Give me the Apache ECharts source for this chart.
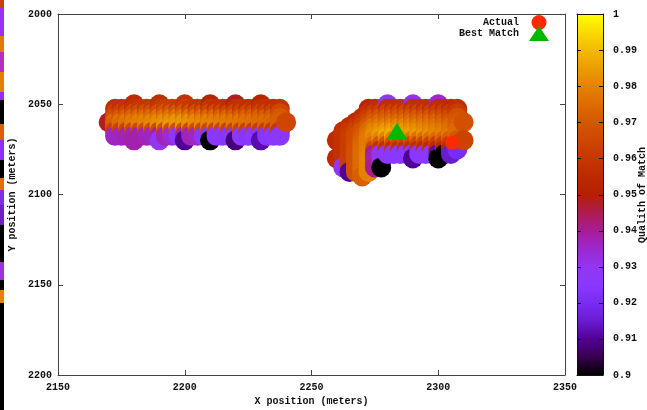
<!DOCTYPE html>
<html><head><meta charset="utf-8">
<style>html,body{margin:0;padding:0;background:#fff}#c{width:647px;height:410px}</style>
<script src="https://cdn.jsdelivr.net/npm/echarts@6/dist/echarts.min.js"></script>
</head><body><div id="c"></div>
<script>
const _ = null;
// Left cluster: x columns and one array of match quality per y row
const xA = [2170,2172.5,2175,2177.5,2180,2182.5,2185,2187.5,2190,2192.5,2195,2197.5,2200,2202.5,2205,2207.5,2210,2212.5,2215,2217.5,2220,2222.5,2225,2227.5,2230,2232.5,2235,2237.5,2240];
const rowsA = [
 [2050,   [_,_,_,_,.955,_,_,_,.957,_,_,_,.958,_,_,_,.952,_,_,_,.948,_,_,_,.952,_,_,_,_]],
 [2052.5, [_,.956,.957,.958,.958,.96,.96,.961,.96,.962,.962,.961,.962,.96,.958,.96,.959,.957,.958,.956,.957,.958,.957,.958,.957,.958,.957,.958,_]],
 [2055,   [_,.962,.964,.965,.966,.967,.968,.968,.968,.969,.97,.97,.97,.968,.967,.967,.966,.966,.965,.965,.965,.964,.965,.965,.964,.964,.964,.965,_]],
 [2057.5, [_,.968,.97,.972,.973,.974,.975,.975,.976,.976,.977,.977,.977,.976,.975,.975,.974,.974,.973,.973,.972,.972,.972,.972,.972,.971,.971,.97,_]],
 [2060,   [.948,.974,.976,.977,.978,.979,.98,.98,.981,.982,.982,.983,.983,.982,.981,.98,.98,.979,.978,.978,.977,.977,.976,.976,.975,.975,.974,.972,.965]],
 [2062.5, [_,.972,.974,.976,.978,.979,.98,.981,.982,.983,.984,.984,.984,.983,.982,.981,.98,.98,.979,.978,.978,.977,.976,.976,.975,.974,.973,.972,_]],
 [2065,   [_,.962,.963,.964,.965,.965,.966,.966,.966,.967,.967,.967,.967,.966,.966,.965,.965,.964,.964,.963,.963,.963,.962,.962,.962,.961,.961,.96,_]],
 [2067.5, [_,.936,.936,.937,.936,.938,.937,.936,.938,.937,.934,.927,.938,.937,.936,.925,.924,.925,.925,.924,.925,.925,.924,.925,.925,.924,.925,.925,_]],
 [2070,   [_,_,_,_,.938,_,_,_,.93,_,_,_,.91,_,_,_,.9,_,_,_,.908,_,_,_,.912,_,_,_,_]]
];
// Right cluster
const xB = [2260,2262.5,2265,2267.5,2270,2272.5,2275,2277.5,2280,2282.5,2285,2287.5,2290,2292.5,2295,2297.5,2300,2302.5,2305,2307.5,2310];
const rowsB = [
 [2050,   [_,_,_,_,_,_,_,_,.93,_,_,_,.932,_,_,_,.935,_,_,_,_]],
 [2052.5, [_,_,_,_,_,.952,.955,.956,.956,.957,.957,.957,.957,.956,.956,.956,.956,.955,.955,.956,_]],
 [2055,   [_,_,_,_,_,.958,.962,.963,.964,.964,.965,.965,.964,.964,.963,.963,.962,.962,.961,.962,_]],
 [2057.5, [_,_,_,_,.955,.962,.968,.969,.97,.97,.97,.97,.97,.97,.969,.969,.968,.967,.966,.968,_]],
 [2060,   [_,_,_,.955,.96,.966,.972,.974,.974,.975,.975,.975,.975,.974,.974,.974,.973,.972,.97,.97,.968]],
 [2062.5, [_,_,.956,.96,.964,.97,.976,.978,.979,.98,.98,.98,.979,.979,.978,.977,.976,.975,.974,.972,_]],
 [2065,   [_,.957,.96,.964,.968,.974,.98,.982,.984,.985,.985,.984,.983,.982,.981,.98,.979,.978,.976,.974,_]],
 [2067.5, [_,.958,.961,.966,.97,.976,.982,.985,.987,.988,.987,.986,.985,.984,.983,.982,.981,.98,.978,.975,_]],
 [2070,   [.955,.958,.962,.966,.972,.978,.98,.98,.98,.979,.978,.977,.977,.976,.975,.975,.974,.973,.972,.97,.964]],
 [2072.5, [_,.958,.962,.967,.973,.978,.975,.97,.968,.967,.966,.966,.965,.965,.964,.964,.963,.963,.962,.962,_]],
 [2075,   [_,.958,.962,.967,.974,.978,.965,.958,.957,.957,.956,.956,.956,.956,.955,.955,.955,.955,.955,.92,_]],
 [2077.5, [_,.958,.962,.968,.975,.979,.94,.928,.926,.925,.925,.926,.925,.925,.925,.926,.912,.9,.915,_,_]],
 [2080,   [.955,.958,.962,.968,.975,.98,.938,.93,_,_,_,_,.91,_,_,_,.9,_,_,_,_]],
 [2082.5, [_,.958,.962,.968,.975,.98,.938,.93,_,_,_,_,_,_,_,_,_,_,_,_,_]],
 [2085,   [_,.93,.962,.968,.975,.98,.94,.9,_,_,_,_,_,_,_,_,_,_,_,_,_]],
 [2087.5, [_,_,.91,.968,.975,.98,_,_,_,_,_,_,_,_,_,_,_,_,_,_,_]],
 [2090,   [_,_,_,_,.972,_,_,_,_,_,_,_,_,_,_,_,_,_,_,_,_]]
];
const actual = [2305.5, 2071.5];
const bestMatch = [2283.7, 2065];
const xTicks = [2150, 2200, 2250, 2300, 2350];
const yTicks = [2000, 2050, 2100, 2150, 2200];
const barTicks = [0.91, 0.92, 0.93, 0.94, 0.95, 0.96, 0.97, 0.98, 0.99];
const palette = ['#000000','#39004f','#510096','#6a1cd0','#7a2cf4','#8a38ff','#9436f0','#9c28ce','#a81c96','#ae1c4f','#b42000','#bd2a00','#c63700','#ce4600','#d55700','#dd6c00','#e48300','#eb9d00','#f2ba00','#f9db00','#ffff00'];
// Sliver of another image along the left edge: [y0, y1, colour]
const edgeStrip = [[0,8,'#c8400a'],[8,36,'#9a30f0'],[36,52,'#e07a00'],[52,72,'#b030c0'],[72,92,'#e08000'],[92,100,'#9030f0'],[100,124,'#000000'],[124,140,'#d86000'],[140,160,'#9030f0'],[160,178,'#000000'],[178,190,'#e07000'],[190,205,'#8030e0'],[205,225,'#7020c0'],[225,262,'#000000'],[262,280,'#a030e0'],[280,290,'#000000'],[290,303,'#e88000'],[303,410,'#000000']];

const pts = [];
function add(xs, rows){
  rows.forEach(([y, vals]) => vals.forEach((v, i) => { if (v !== null) pts.push([xs[i], y, v]); }));
}
add(xA, rowsA); add(xB, rowsB);
pts.sort((a, b) => a[0] - b[0] || a[1] - b[1]);

const font = {fontFamily:'"Liberation Mono", monospace', fontWeight:'bold', fontSize:10, color:'#111'};
const line = {show:true, lineStyle:{color:'#444', width:1}};
const tick = {show:true, inside:true, length:5, lineStyle:{color:'#444', width:1}};
const chart = echarts.init(document.getElementById('c'), null, {renderer:'canvas'});
const barLine = {show:true, onZero:false, lineStyle:{color:'#111', width:1}};
const plain = v => String(v);
const barStops = palette.map((color, i) => ({offset:1 - i / (palette.length - 1), color})).reverse();
chart.setOption({
  animation:false,
  backgroundColor:'#fff',
  grid:[{left:58, top:14, width:507, height:361, outerBoundsMode:'none'},{left:577, top:14, width:26, height:361, outerBoundsMode:'none'}],
  xAxis:[
    {gridIndex:0, type:'value', min:xTicks[0], max:xTicks[4], interval:50, position:'bottom',
     name:'X position (meters)', nameLocation:'middle', nameGap:20, nameTextStyle:font,
     axisLine:line, axisTick:tick, splitLine:{show:false}, axisLabel:{...font, margin:7, formatter:plain}},
    {gridIndex:0, type:'value', min:xTicks[0], max:xTicks[4], interval:50, position:'top',
     axisLine:line, axisTick:tick, splitLine:{show:false}, axisLabel:{show:false}},
    {gridIndex:1, type:'category', data:['q'], position:'bottom', axisLine:barLine, axisTick:{show:false}, splitLine:{show:false}, axisLabel:{show:false}, z:8},
    {gridIndex:1, type:'category', data:['q'], position:'top', axisLine:barLine, axisTick:{show:false}, splitLine:{show:false}, axisLabel:{show:false}, z:8}
  ],
  yAxis:[
    {gridIndex:0, type:'value', min:yTicks[0], max:yTicks[4], interval:50, inverse:true, position:'left',
     name:'Y position (meters)', nameLocation:'middle', nameGap:40, nameRotate:90, nameTextStyle:font,
     axisLine:line, axisTick:tick, splitLine:{show:false}, axisLabel:{...font, margin:6, formatter:plain}},
    {gridIndex:0, type:'value', min:yTicks[0], max:yTicks[4], interval:50, inverse:true, position:'right',
     axisLine:line, axisTick:tick, splitLine:{show:false}, axisLabel:{show:false}},
    {gridIndex:1, type:'value', min:0.9, max:1, interval:0.01, position:'left',
     axisLine:barLine, axisTick:{show:false}, splitLine:{show:false}, axisLabel:{show:false}, z:8},
    {gridIndex:1, type:'value', min:0.9, max:1, interval:0.01, position:'right',
     axisLine:barLine, axisTick:{show:false}, splitLine:{show:false},
     axisLabel:{...font, margin:10, formatter:v => String(+v.toFixed(2))}, z:8}
  ],
  visualMap:[{type:'continuous', seriesIndex:0, dimension:2, min:0.9, max:1, show:false, inRange:{color:palette}}],
  legend:{show:true, orient:'vertical', align:'right', right:98, top:15, padding:0, itemWidth:20, itemHeight:15, itemGap:-4,
    selectedMode:false, textStyle:{...font, padding:[0,5,0,0]},
    data:[{name:'Actual', icon:'circle'},{name:'Best Match', icon:'triangle'}]},
  series:[
    {type:'scatter', xAxisIndex:0, yAxisIndex:0, symbol:'circle', symbolSize:20, data:pts, silent:true, progressive:0, z:2, itemStyle:{opacity:1}},
    {type:'scatter', name:'Actual', xAxisIndex:0, yAxisIndex:0, symbol:'circle', symbolSize:14, data:[actual], z:3, itemStyle:{color:'#ff2a00', opacity:1}},
    {type:'scatter', name:'Best Match', xAxisIndex:0, yAxisIndex:0, symbol:'triangle', symbolSize:[21,17], data:[bestMatch], z:4, itemStyle:{color:'#00b800', opacity:1}},
    {type:'bar', xAxisIndex:2, yAxisIndex:2, data:[1], barWidth:'100%', silent:true, z:1,
     itemStyle:{color:new echarts.graphic.LinearGradient(0,0,0,1,barStops)}}
  ]
});
// Colour-bar ticks placed through the library's own scale, pointing inward from both bar edges
const tickLines = [];
barTicks.forEach(v => {
  const y = Math.round(chart.convertToPixel({yAxisIndex:2}, v)) + 0.5;
  [[577,581],[599,603]].forEach(([a,b]) => tickLines.push({type:'line', silent:true, z:100,
    shape:{x1:a, y1:y, x2:b, y2:y}, style:{stroke:'#111', lineWidth:1}}));
});
chart.setOption({graphic:[
  ...edgeStrip.map(([a,b,c]) => ({type:'rect', silent:true, shape:{x:0, y:a, width:4, height:b-a}, style:{fill:c}})),
  ...tickLines,
  {type:'text', silent:true, z:100, x:642, y:195, rotation:Math.PI/2, style:{text:'Qualith of Match', fill:'#111', font:'bold 10px "Liberation Mono", monospace', textAlign:'center', textVerticalAlign:'middle'}}
]});
</script></body></html>
